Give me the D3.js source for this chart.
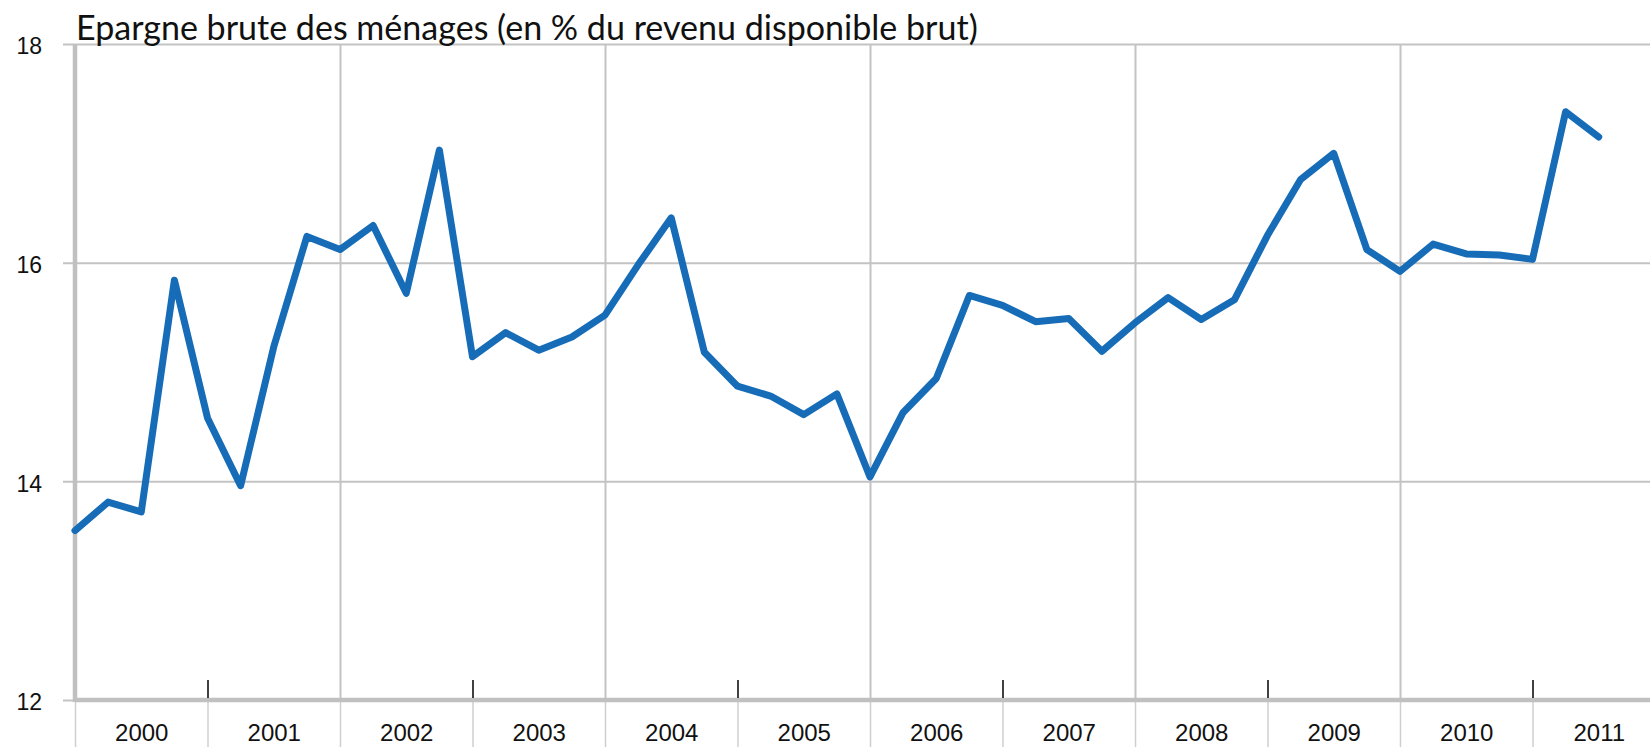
<!DOCTYPE html>
<html>
<head>
<meta charset="utf-8">
<script src="https://cdn.jsdelivr.net/npm/d3@7"></script>
<style>
    body { margin: 0; background: #fff; }
    svg { display: block; font-family: "Lato", "Open Sans", sans-serif; }
</style>
</head>
<body>
<div class="chart"></div>
<script>
// annees de l'axe
var annees = ["2000", "2001", "2002", "2003", "2004", "2005", "2006", "2007", "2008", "2009", "2010", "2011"];

// taux d'epargne trimestriel, 2000T1 -> 2011T3
var epargne = [
    13.55, 13.81, 13.72, 15.84,
    14.58, 13.96, 15.23, 16.24,
    16.12, 16.34, 15.72, 17.03,
    15.14, 15.36, 15.20, 15.32,
    15.52, 15.98, 16.41, 15.18,
    14.87, 14.78, 14.61, 14.80,
    14.04, 14.63, 14.94, 15.70,
    15.61, 15.46, 15.49, 15.19,
    15.45, 15.68, 15.48, 15.66,
    16.25, 16.76, 17.00, 16.12,
    15.92, 16.17, 16.08, 16.07,
    16.03, 17.38, 17.15
];

var yTicks = [12, 14, 16, 18];
var titre = "Epargne brute des ménages (en % du revenu disponible brut)";

var width = 1650,
    height = 747;
var margin = {
    top: 44,
    left: 75,
    bottom: 47
};
var bottomY = height - margin.bottom;
var gridColor = "#c3c3c3";

var svg = d3.select(".chart").append("svg")
    .attr("width", width)
    .attr("height", height);

var firstYear = +annees[0];
// 12 years, the last one runs off the right edge
var x = d3.scaleLinear()
    .domain([firstYear, firstYear + annees.length])
    .range([margin.left, margin.left + annees.length * 132.5]);

var y = d3.scaleLinear()
    .domain([12, 18])
    .range([bottomY, margin.top]);

var bornes = d3.range(firstYear, firstYear + annees.length + 1);

// horizontal grid + y labels
var gY = svg.append("g")
    .attr("transform", "translate(63,0)")
    .call(d3.axisLeft(y)
        .tickValues(yTicks)
        .tickSize(-(width - 63))
        .tickPadding(21)
        .tickFormat(d3.format("d")));
gY.select(".domain").remove();
gY.selectAll(".tick line").attr("stroke", gridColor).attr("stroke-width", 2);
gY.selectAll(".tick text")
    .attr("font-size", 23)
    .attr("fill", "#111")
    .attr("dy", "0.42em");

// vertical grid every two years
var gX = svg.append("g")
    .attr("transform", "translate(0," + bottomY + ")")
    .call(d3.axisBottom(x)
        .tickValues(bornes.filter(function (b) { return (b - firstYear) % 2 === 0 && b !== firstYear; }))
        .tickSize(-(bottomY - margin.top))
        .tickFormat(""));
gX.select(".domain").remove();
gX.selectAll(".tick line").attr("stroke", gridColor).attr("stroke-width", 2);

// gray ticks under the axis at every year
var gLow = svg.append("g")
    .attr("transform", "translate(0," + bottomY + ")")
    .call(d3.axisBottom(x).tickValues(bornes).tickSize(height - bottomY).tickFormat(""));
gLow.select(".domain").remove();
gLow.selectAll(".tick line").attr("stroke", "#cfcfcf").attr("stroke-width", 1.5);

// axis lines
svg.append("line")
    .attr("x1", x(firstYear)).attr("x2", width)
    .attr("y1", bottomY).attr("y2", bottomY)
    .attr("stroke", "#c0c0c0").attr("stroke-width", 4.5);
svg.append("line")
    .attr("x1", x(firstYear)).attr("x2", x(firstYear))
    .attr("y1", margin.top).attr("y2", bottomY + 2)
    .attr("stroke", "#c0c0c0").attr("stroke-width", 4.5);

// small black ticks on odd years
var gTick = svg.append("g")
    .attr("transform", "translate(0," + (bottomY - 2) + ")")
    .call(d3.axisTop(x)
        .tickValues(bornes.filter(function (b) { return (b - firstYear) % 2 === 1; }))
        .tickSize(18)
        .tickFormat(""));
gTick.select(".domain").remove();
gTick.selectAll(".tick line").attr("stroke", "#111").attr("stroke-width", 1.6);

// year labels, centred in each year
var gLab = svg.append("g")
    .attr("transform", "translate(0," + bottomY + ")")
    .call(d3.axisBottom(x)
        .tickValues(annees.map(function (a) { return +a + 0.5; }))
        .tickSize(0)
        .tickPadding(24)
        .tickFormat(function (d) { return String(Math.floor(d)); }));
gLab.select(".domain").remove();
gLab.selectAll(".tick text")
    .attr("font-size", 24)
    .attr("fill", "#111");

// the series
var line = d3.line()
    .x(function (d, i) { return x(firstYear + i / 4); })
    .y(function (d) { return y(d); });

svg.append("path")
    .datum(epargne)
    .attr("d", line)
    .attr("fill", "none")
    .attr("stroke", "#176cb8")
    .attr("stroke-width", 7)
    .attr("stroke-linejoin", "round")
    .attr("stroke-linecap", "round");

// title, sized so it spans the same width as the original
var title = svg.append("text")
    .attr("x", 76)
    .attr("y", 40)
    .attr("font-size", 31)
    .attr("fill", "#111")
    .text(titre);
var tw = title.node().getComputedTextLength();
title.attr("font-size", 31 * 902 / tw);
</script>
</body>
</html>
